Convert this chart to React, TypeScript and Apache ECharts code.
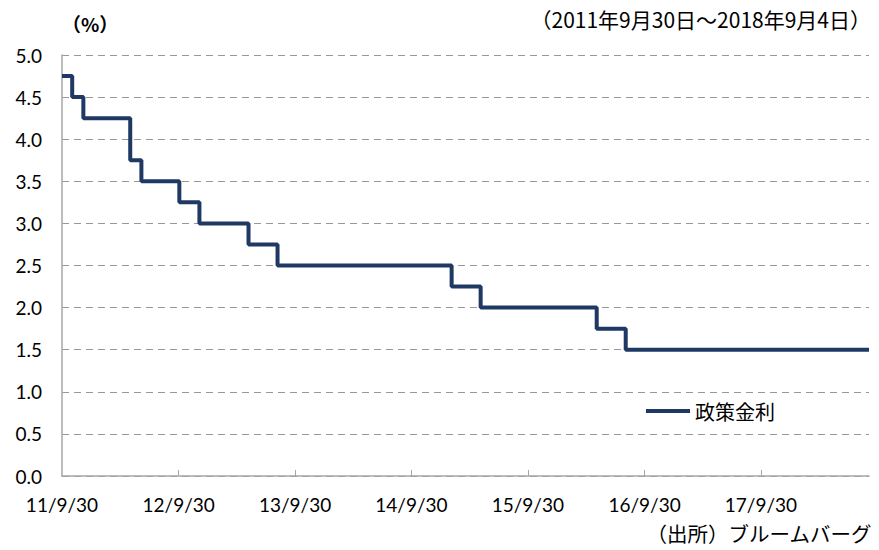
import React, { useEffect, useRef } from "react";
import * as echarts from "echarts";

const changeDates = [
  "2011-09-30", "2011-11-01", "2011-12-06", "2012-05-01", "2012-06-05",
  "2012-10-02", "2012-12-04", "2013-05-07", "2013-08-06", "2015-02-03",
  "2015-05-05", "2016-05-03", "2016-08-02", "2018-09-04",
];
const policyRate = [4.75, 4.5, 4.25, 3.75, 3.5, 3.25, 3.0, 2.75, 2.5, 2.25, 2.0, 1.75, 1.5, 1.5];
const tickDates = ["2011-09-30", "2012-09-30", "2013-09-30", "2014-09-30", "2015-09-30", "2016-09-30", "2017-09-30"];
const seriesName = "政策金利";

const toTs = (s: string) => {
  const [y, m, d] = s.split("-").map(Number);
  return Date.UTC(y, m - 1, d);
};
const fmt = (v: number) => {
  const d = new Date(v);
  return `${String(d.getUTCFullYear()).slice(2)}/${d.getUTCMonth() + 1}/${d.getUTCDate()}`;
};

export default function App() {
  const ref = useRef<HTMLDivElement>(null);
  useEffect(() => {
    const chart = echarts.init(ref.current!, null, { renderer: "svg" });
    const ticks = tickDates.map(toTs);
    const font = "Lato, 'Noto Sans', sans-serif";
    const cjk = "'Noto Sans CJK JP', sans-serif";
    chart.setOption({
      animation: false,
      grid: { left: 62, right: 10, top: 55, bottom: 74, containLabel: false },
      xAxis: {
        type: "value",
        min: toTs(changeDates[0]),
        max: toTs(changeDates[changeDates.length - 1]),
        axisLine: { show: true, lineStyle: { color: "#a6a6a6", width: 1.5 } },
        axisTick: { show: true, customValues: ticks.slice(1), length: 6, inside: true, lineStyle: { color: "#a6a6a6" } },
        axisLabel: {
          customValues: ticks,
          formatter: (v: number) => fmt(v),
          color: "#000",
          fontSize: 19,
          fontFamily: font,
          margin: 19,
          hideOverlap: false,
        },
        splitLine: { show: false },
      },
      yAxis: {
        type: "value",
        min: 0,
        max: 5,
        interval: 0.5,
        axisLine: { show: true, lineStyle: { color: "#a6a6a6", width: 1.5 } },
        axisTick: { show: false },
        axisLabel: { formatter: (v: number) => v.toFixed(1), color: "#000", fontSize: 19, fontFamily: font, margin: 20 },
        splitLine: { show: true, lineStyle: { color: "#999", type: [7, 5], width: 1.2 } },
      },
      legend: {
        left: 641,
        top: 396,
        itemWidth: 44,
        itemHeight: 4,
        itemGap: 3,
        icon: "rect",
        textStyle: { fontSize: 20, fontFamily: cjk, color: "#000" },
        data: [seriesName],
      },
      graphic: [
        { type: "text", left: 62, top: 14, style: { text: "（%）", fontSize: 19, fontFamily: cjk, fill: "#000", fontWeight: "bold" } },
        { type: "text", right: 8, top: 8, style: { text: "（2011年9月30日～2018年9月4日）", fontSize: 21, fontFamily: cjk, fill: "#000" } },
        { type: "text", right: 7, top: 523, style: { text: "（出所）ブルームバーグ", fontSize: 20.5, fontFamily: cjk, fill: "#000" } },
      ],
      series: [
        {
          name: seriesName,
          type: "line",
          step: "end",
          symbol: "none",
          lineStyle: { color: "#1f3864", width: 4 },
          itemStyle: { color: "#1f3864" },
          data: changeDates.map((d, i) => [toTs(d), policyRate[i]]),
        },
      ],
    });
    return () => chart.dispose();
  }, []);
  return <div ref={ref} style={{ width: 879, height: 550, position: "absolute", left: 0, top: 0 }} />;
}
